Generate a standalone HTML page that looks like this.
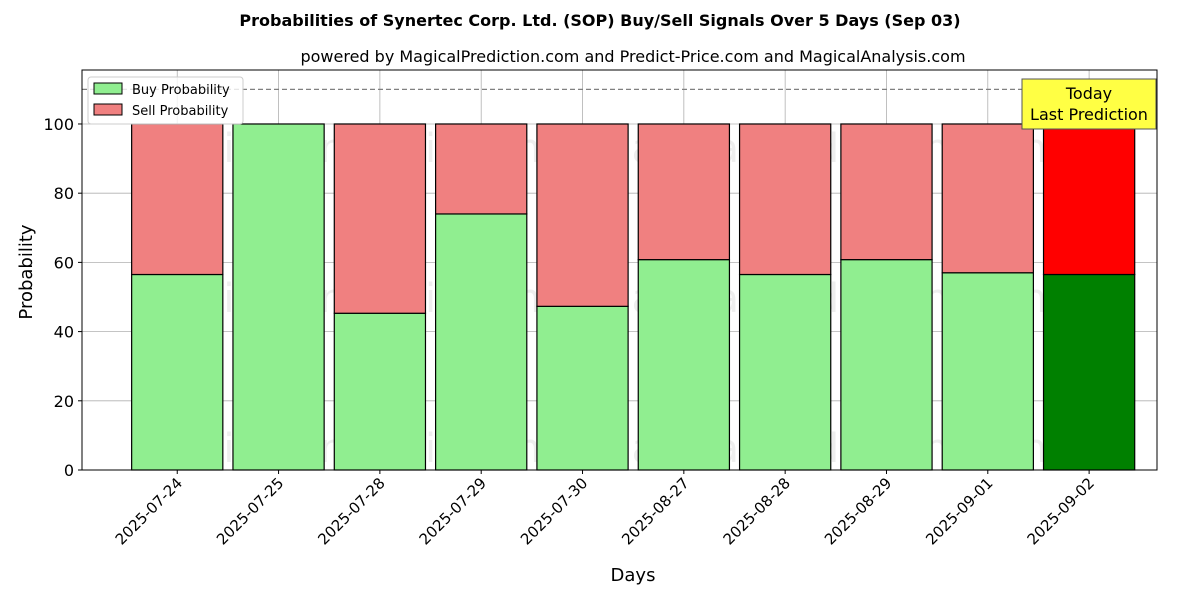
<!DOCTYPE html>
<html><head><meta charset="utf-8"><style>
body{margin:0;background:#fff;font-family:"DejaVu Sans","Liberation Sans",sans-serif}
</style></head><body>
<svg id="chart" width="1200" height="600" xmlns="http://www.w3.org/2000/svg" font-family="DejaVu Sans, Liberation Sans, sans-serif"></svg>
<script>
const categories=["2025-07-24","2025-07-25","2025-07-28","2025-07-29","2025-07-30","2025-08-27","2025-08-28","2025-08-29","2025-09-01","2025-09-02"];
const buyValues=[56.5,100,45.3,74,47.3,60.8,56.5,60.8,57,56.5];
const sellValues=[43.5,0,54.7,26,52.7,39.2,43.5,39.2,43,43.5];
const yTicks=[0,20,40,60,80,100];
const svg=document.getElementById('chart');
const NS='http://www.w3.org/2000/svg';
const L=82,R=1157,T=70,B=470;
const xMin=-0.94,xMax=9.67,yMin=0,yMax=115.6;
const x=i=>L+(i-xMin)/(xMax-xMin)*(R-L);
const y=v=>B-(v-yMin)/(yMax-yMin)*(B-T);
const bw=0.9*(R-L)/(xMax-xMin);
function el(tag,attrs,parent){const e=document.createElementNS(NS,tag);for(const k in attrs)e.setAttribute(k,attrs[k]);(parent||svg).appendChild(e);return e;}
function txt(s,attrs){const t=el('text',attrs);t.textContent=s;return t;}
// grid
yTicks.forEach(v=>{const g=el('line',{x1:L,x2:R,y1:y(v),y2:y(v),stroke:'#b0b0b0','stroke-width':0.8});
});
categories.forEach((c,i)=>{const g=el('line',{x1:x(i),x2:x(i),y1:T,y2:B,stroke:'#b0b0b0','stroke-width':0.8});
});
// watermarks
[[347,148],[822,148],[347,298],[822,298],[347,448],[822,448]].forEach((p,k)=>{
const t=txt(k%2==0?'MagicalAnalysis.com':'MagicalPrediction.com',{x:p[0],y:p[1]+14,'text-anchor':'middle','font-size':40,fill:'rgba(120,120,120,0.13)'});
if(k%2==1)t.textContent='MagicalPrediction.com';
if(k==0||k==2||k==4)t.textContent='MagicalAnalysis.com';
});
// bars
categories.forEach((c,i)=>{
const last=i===categories.length-1;
const b=el('rect',{x:x(i)-bw/2,y:y(buyValues[i]),width:bw,height:y(0)-y(buyValues[i]),fill:last?'#008000':'#90ee90',stroke:'#000','stroke-width':1.2});

const s=el('rect',{x:x(i)-bw/2,y:y(buyValues[i]+sellValues[i]),width:bw,height:y(buyValues[i])-y(buyValues[i]+sellValues[i]),fill:last?'#ff0000':'#f08080',stroke:'#000','stroke-width':1.2});

});
// dashed line
const d=el('line',{x1:L,x2:R,y1:y(110),y2:y(110),stroke:'#808080','stroke-width':1.2,'stroke-dasharray':'5,3'});

// frame
const f=el('rect',{x:L,y:T,width:R-L,height:B-T,fill:'none',stroke:'#000','stroke-width':1});

// ticks
yTicks.forEach(v=>{el('line',{x1:L-4,x2:L,y1:y(v),y2:y(v),stroke:'#000'});
const t=txt(v,{x:L-8,y:y(v)+6,'text-anchor':'end','font-size':16});});
categories.forEach((c,i)=>{el('line',{x1:x(i),x2:x(i),y1:B,y2:B+4,stroke:'#000'});
const t=txt(c,{x:x(i)+6,y:B+14,'text-anchor':'end','font-size':15,transform:`rotate(-45 ${x(i)+6} ${B+14})`});
});
// titles
let t=txt('Probabilities of Synertec Corp. Ltd. (SOP) Buy/Sell Signals Over 5 Days (Sep 03)',{x:600,y:26,'text-anchor':'middle','font-size':16,'font-weight':'bold'});
t=txt('powered by MagicalPrediction.com and Predict-Price.com and MagicalAnalysis.com',{x:633,y:62,'text-anchor':'middle','font-size':16});
t=txt('Days',{x:633,y:581,'text-anchor':'middle','font-size':18});
t=txt('Probability',{x:32,y:272,'text-anchor':'middle','font-size':18,transform:'rotate(-90 32 272)'});
// today annotation
const a=el('rect',{x:1022,y:79,width:134,height:50,fill:'#ffff44',stroke:'#555','stroke-width':1});
txt('Today',{x:1089,y:99,'text-anchor':'middle','font-size':16});
txt('Last Prediction',{x:1089,y:120,'text-anchor':'middle','font-size':16});
// legend
const lg=el('rect',{x:88,y:77,width:155,height:47,fill:'#fff','fill-opacity':0.8,stroke:'#ccc',rx:3});
el('rect',{x:94,y:83,width:28,height:11,fill:'#90ee90',stroke:'#000'});
t=txt('Buy Probability',{x:132,y:94,'font-size':13});
el('rect',{x:94,y:104,width:28,height:11,fill:'#f08080',stroke:'#000'});
t=txt('Sell Probability',{x:132,y:115,'font-size':13});
</script>
</body></html>
